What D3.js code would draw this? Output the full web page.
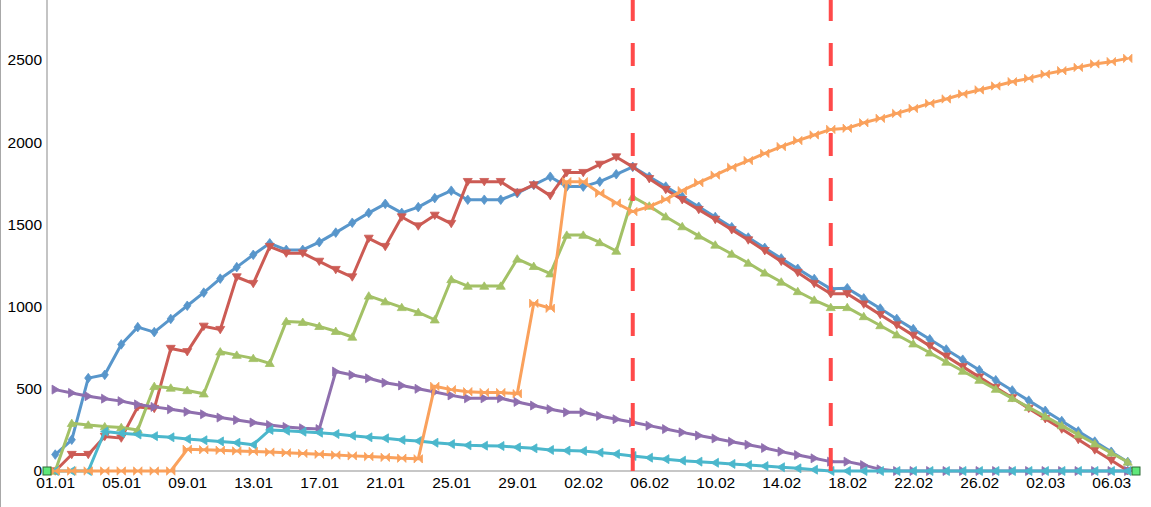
<!DOCTYPE html>
<html>
<head>
<meta charset="utf-8">
<script src="https://cdn.jsdelivr.net/npm/d3@7"></script>
<style>
  html, body { margin: 0; padding: 0; background: #fff; }
  svg { display: block; }
  text { font-family: "Liberation Sans", Arial, Helvetica, sans-serif; }
</style>
</head>
<body>
<svg id="chart" width="1151" height="507"></svg>
<script>
// ---- data ----
const categories = [
  "01.01","02.01","03.01","04.01","05.01","06.01","07.01","08.01","09.01","10.01",
  "11.01","12.01","13.01","14.01","15.01","16.01","17.01","18.01","19.01","20.01",
  "21.01","22.01","23.01","24.01","25.01","26.01","27.01","28.01","29.01","30.01","31.01",
  "01.02","02.02","03.02","04.02","05.02","06.02","07.02","08.02","09.02","10.02",
  "11.02","12.02","13.02","14.02","15.02","16.02","17.02","18.02","19.02","20.02",
  "21.02","22.02","23.02","24.02","25.02","26.02","27.02","28.02",
  "01.03","02.03","03.03","04.03","05.03","06.03","07.03"
];
const tickLabels = ["01.01","05.01","09.01","13.01","17.01","21.01","25.01","29.01",
  "02.02","06.02","10.02","14.02","18.02","22.02","26.02","02.03","06.03"];
const yTicks = [0, 500, 1000, 1500, 2000, 2500];
const markerDates = ["05.02", "17.02"];

const blueValues = [100,190,565,585,770,875,845,925,1005,1085,1170,1240,1315,1385,1345,1345,1392,1450,1510,1570,
  1625,1570,1605,1660,1705,1650,1650,1650,1690,1740,1790,1730,1730,1760,1805,1850,1790,1730,1668,1607,
  1545,1483,1420,1357,1293,1230,1168,1108,1112,1050,988,925,863,801,739,677,614,552,490,428,
  366,304,241,179,117,55];
const redValues = [0,100,100,210,200,390,380,745,725,880,860,1180,1140,1365,1325,1325,1275,1225,1180,1415,
  1365,1545,1490,1555,1505,1760,1760,1760,1695,1740,1675,1815,1815,1865,1910,1850,1778,1712,1650,1590,
  1530,1467,1405,1340,1275,1207,1140,1078,1078,1015,951,888,825,761,698,635,571,508,445,381,
  318,255,191,128,65,2];
const greenValues = [0,290,280,270,265,250,515,505,490,470,725,705,685,655,910,905,880,850,815,1065,
  1030,995,965,920,1165,1125,1125,1125,1290,1245,1200,1435,1435,1390,1338,1668,1612,1547,1487,1430,
  1375,1320,1265,1205,1150,1092,1040,995,995,940,885,829,774,719,663,608,553,498,442,387,
  332,276,221,166,110,55];
const purpleValues = [495,475,455,440,425,405,390,375,360,345,325,310,295,280,268,260,255,605,584,564,
  537,520,500,480,460,442,442,442,420,398,376,357,357,335,315,296,276,255,235,216,
  198,178,160,140,118,97,77,57,57,36,10,0,0,0,0,0,0,0,0,0,
  0,0,0,0,0,0];
const cyanValues = [0,0,0,240,230,222,212,205,195,187,180,172,160,250,245,239,233,225,215,205,
  199,189,182,172,164,156,154,152,144,138,128,124,122,112,103,91,81,72,63,57,
  50,43,36,30,23,16,8,0,0,0,0,0,0,0,0,0,0,0,0,0,
  0,0,0,0,0,0];
const orangeValues = [0,0,0,0,0,0,0,0,132,129,126,122,119,115,111,107,102,97,92,88,
  83,78,74,515,495,482,477,477,470,1020,990,1760,1760,1690,1630,1578,1608,1652,1705,1754,
  1800,1847,1888,1932,1973,2010,2044,2078,2085,2118,2145,2175,2205,2236,2263,2293,2318,2342,2368,2388,
  2414,2435,2455,2476,2490,2510];

const seriesColors = ["#5896cb", "#cc5b54", "#a3c166", "#8f6fae", "#4bb7cc", "#faa15c"];
const seriesShapes = ["diamond", "down", "up", "right", "left", "bowtie"];

// ---- chart ----
const W = 1151, H = 507;
const svg = d3.select("#chart");

const x = d3.scalePoint().domain(categories).range([47, 1136]).padding(0.5);
const y = d3.scaleLinear().domain([0, 2865]).range([471, 0]);

const series = [blueValues, redValues, greenValues, purpleValues, cyanValues, orangeValues];

const shapePaths = {
  diamond: "M0,-4.8L3.6,0L0,4.8L-3.6,0Z",
  down: "M-4.5,-3.2L4.5,-3.2L0,4.2Z",
  up: "M-4.5,3.2L4.5,3.2L0,-4.2Z",
  right: "M-3.2,-4.5L4.2,0L-3.2,4.5Z",
  left: "M3.2,-4.5L-4.2,0L3.2,4.5Z",
  bowtie: "M-4.2,-4.2L0,0L-4.2,4.2ZM4.2,-4.2L0,0L4.2,4.2Z"
};

// left frame line
svg.append("line").attr("x1", 0.5).attr("x2", 0.5).attr("y1", 0).attr("y2", H)
  .attr("stroke", "#a8a8a8").attr("stroke-width", 1);

// y axis
const yAxis = svg.append("g").attr("transform", "translate(47,0)")
  .call(d3.axisLeft(y).tickValues(yTicks).tickSize(0).tickPadding(5).tickFormat(d3.format("d")));
yAxis.select(".domain").remove();
yAxis.selectAll("text").attr("font-size", "15.5px").attr("fill", "#000")
  .style("font-family", "'Liberation Sans', Arial, sans-serif");
svg.append("line").attr("x1", 47).attr("x2", 47).attr("y1", 0).attr("y2", y(0))
  .attr("stroke", "#b0b0b0").attr("stroke-width", 1.5);

// x axis
const xAxis = svg.append("g").attr("transform", `translate(0,${y(0)})`)
  .call(d3.axisBottom(x).tickValues(tickLabels).tickSize(0).tickPadding(6));
xAxis.select(".domain").remove();
xAxis.selectAll("text").attr("font-size", "15.5px").attr("fill", "#000")
  .style("font-family", "'Liberation Sans', Arial, sans-serif");
svg.append("line").attr("x1", 47).attr("x2", 1136).attr("y1", y(0)).attr("y2", y(0))
  .attr("stroke", "#b4b4b4").attr("stroke-width", 1.5);

// series
const line = d3.line().x((d, i) => x(categories[i])).y(d => y(d));
series.forEach((vals, si) => {
  const g = svg.append("g");
  g.append("path").datum(vals).attr("d", line)
    .attr("fill", "none").attr("stroke", seriesColors[si])
    .attr("stroke-width", 3).attr("stroke-linejoin", "round");
  g.selectAll("path.m").data(vals).enter().append("path").attr("class", "m")
    .attr("d", shapePaths[seriesShapes[si]])
    .attr("transform", (d, i) => `translate(${x(categories[i])},${y(d)})`)
    .attr("fill", seriesColors[si]).attr("stroke", seriesColors[si]).attr("stroke-width", 0.8);
});

// dashed marker lines
markerDates.forEach(dt => {
  svg.append("line").attr("x1", x(dt)).attr("x2", x(dt))
    .attr("y1", y(0)).attr("y2", 0)
    .attr("stroke", "#ff4a4a").attr("stroke-width", 4)
    .attr("stroke-dasharray", "23,22");
});

// end squares on the axis
[x.range()[0], x.range()[1]].forEach(px => {
  svg.append("rect").attr("x", px - 4).attr("y", y(0) - 4).attr("width", 8).attr("height", 8)
    .attr("fill", "#5fe87a").attr("stroke", "#2d6b34").attr("stroke-width", 1);
});
</script>
</body>
</html>
